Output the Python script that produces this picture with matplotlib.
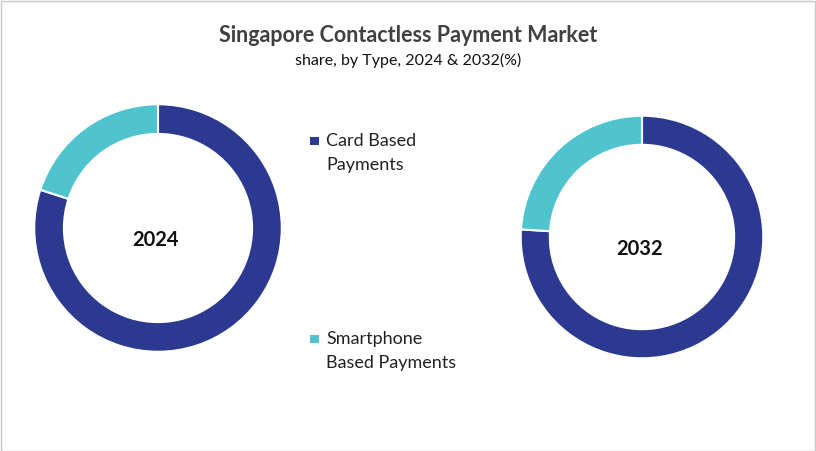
import matplotlib
matplotlib.use("Agg")
import matplotlib.pyplot as plt
from matplotlib.patches import Rectangle

plt.rcParams['font.family'] = ['Lato', 'DejaVu Sans']

categories = ["Card Based\nPayments", "Smartphone\nBased Payments"]
years = ["2024", "2032"]
share_2024 = [80, 20]
share_2032 = [76, 24]
colors = ["#2B3990", "#4FC4CF"]

W, H = 816, 451
fig = plt.figure(figsize=(W/100, H/100), dpi=100)
fig.patch.set_facecolor("white")

# border
fig.add_artist(Rectangle((0.5/W, 0.5/H), 1-1.5/W, 1-1.5/H, transform=fig.transFigure,
                         fill=False, edgecolor="#C8C8C8", linewidth=1))

def donut(cx, cy, r, values, label):
    ax = fig.add_axes([(cx-r)/W, 1-(cy+r)/H, 2*r/W, 2*r/H])
    ax.pie(values, colors=colors, startangle=90, counterclock=False,
           radius=1, wedgeprops=dict(width=0.24, edgecolor="white", linewidth=1.5))
    ax.set_xlim(-1.01, 1.01); ax.set_ylim(-1.01, 1.01)
    ax.set_aspect("equal")
    ax.axis("off")
    ax.text(-0.02, -0.1, label, ha="center", va="center", fontsize=14.5,
            fontweight="bold", color="#111111")

donut(158, 228, 125, share_2024, years[0])
donut(642, 237, 122.5, share_2032, years[1])

fig.text(0.5, 1-36/H, "Singapore Contactless Payment Market", ha="center", va="center",
         fontsize=15.5, fontweight="bold", color="#404040")
fig.text(0.5, 1-60/H, "share, by Type, 2024 & 2032(%)", ha="center", va="center",
         fontsize=11.5, color="#111111")

# legend
leg_y = [141, 339]
for cat, col, y in zip(categories, colors, leg_y):
    fig.add_artist(Rectangle((310/W, 1-(y+4)/H), 8.5/W, 8.5/H, transform=fig.transFigure,
                             facecolor=col, edgecolor="none"))
    fig.text(326/W, 1-(y-8)/H, cat, ha="left", va="top", fontsize=13,
             color="#222222", linespacing=1.65)

fig.savefig("out.png", dpi=100, facecolor="white")
